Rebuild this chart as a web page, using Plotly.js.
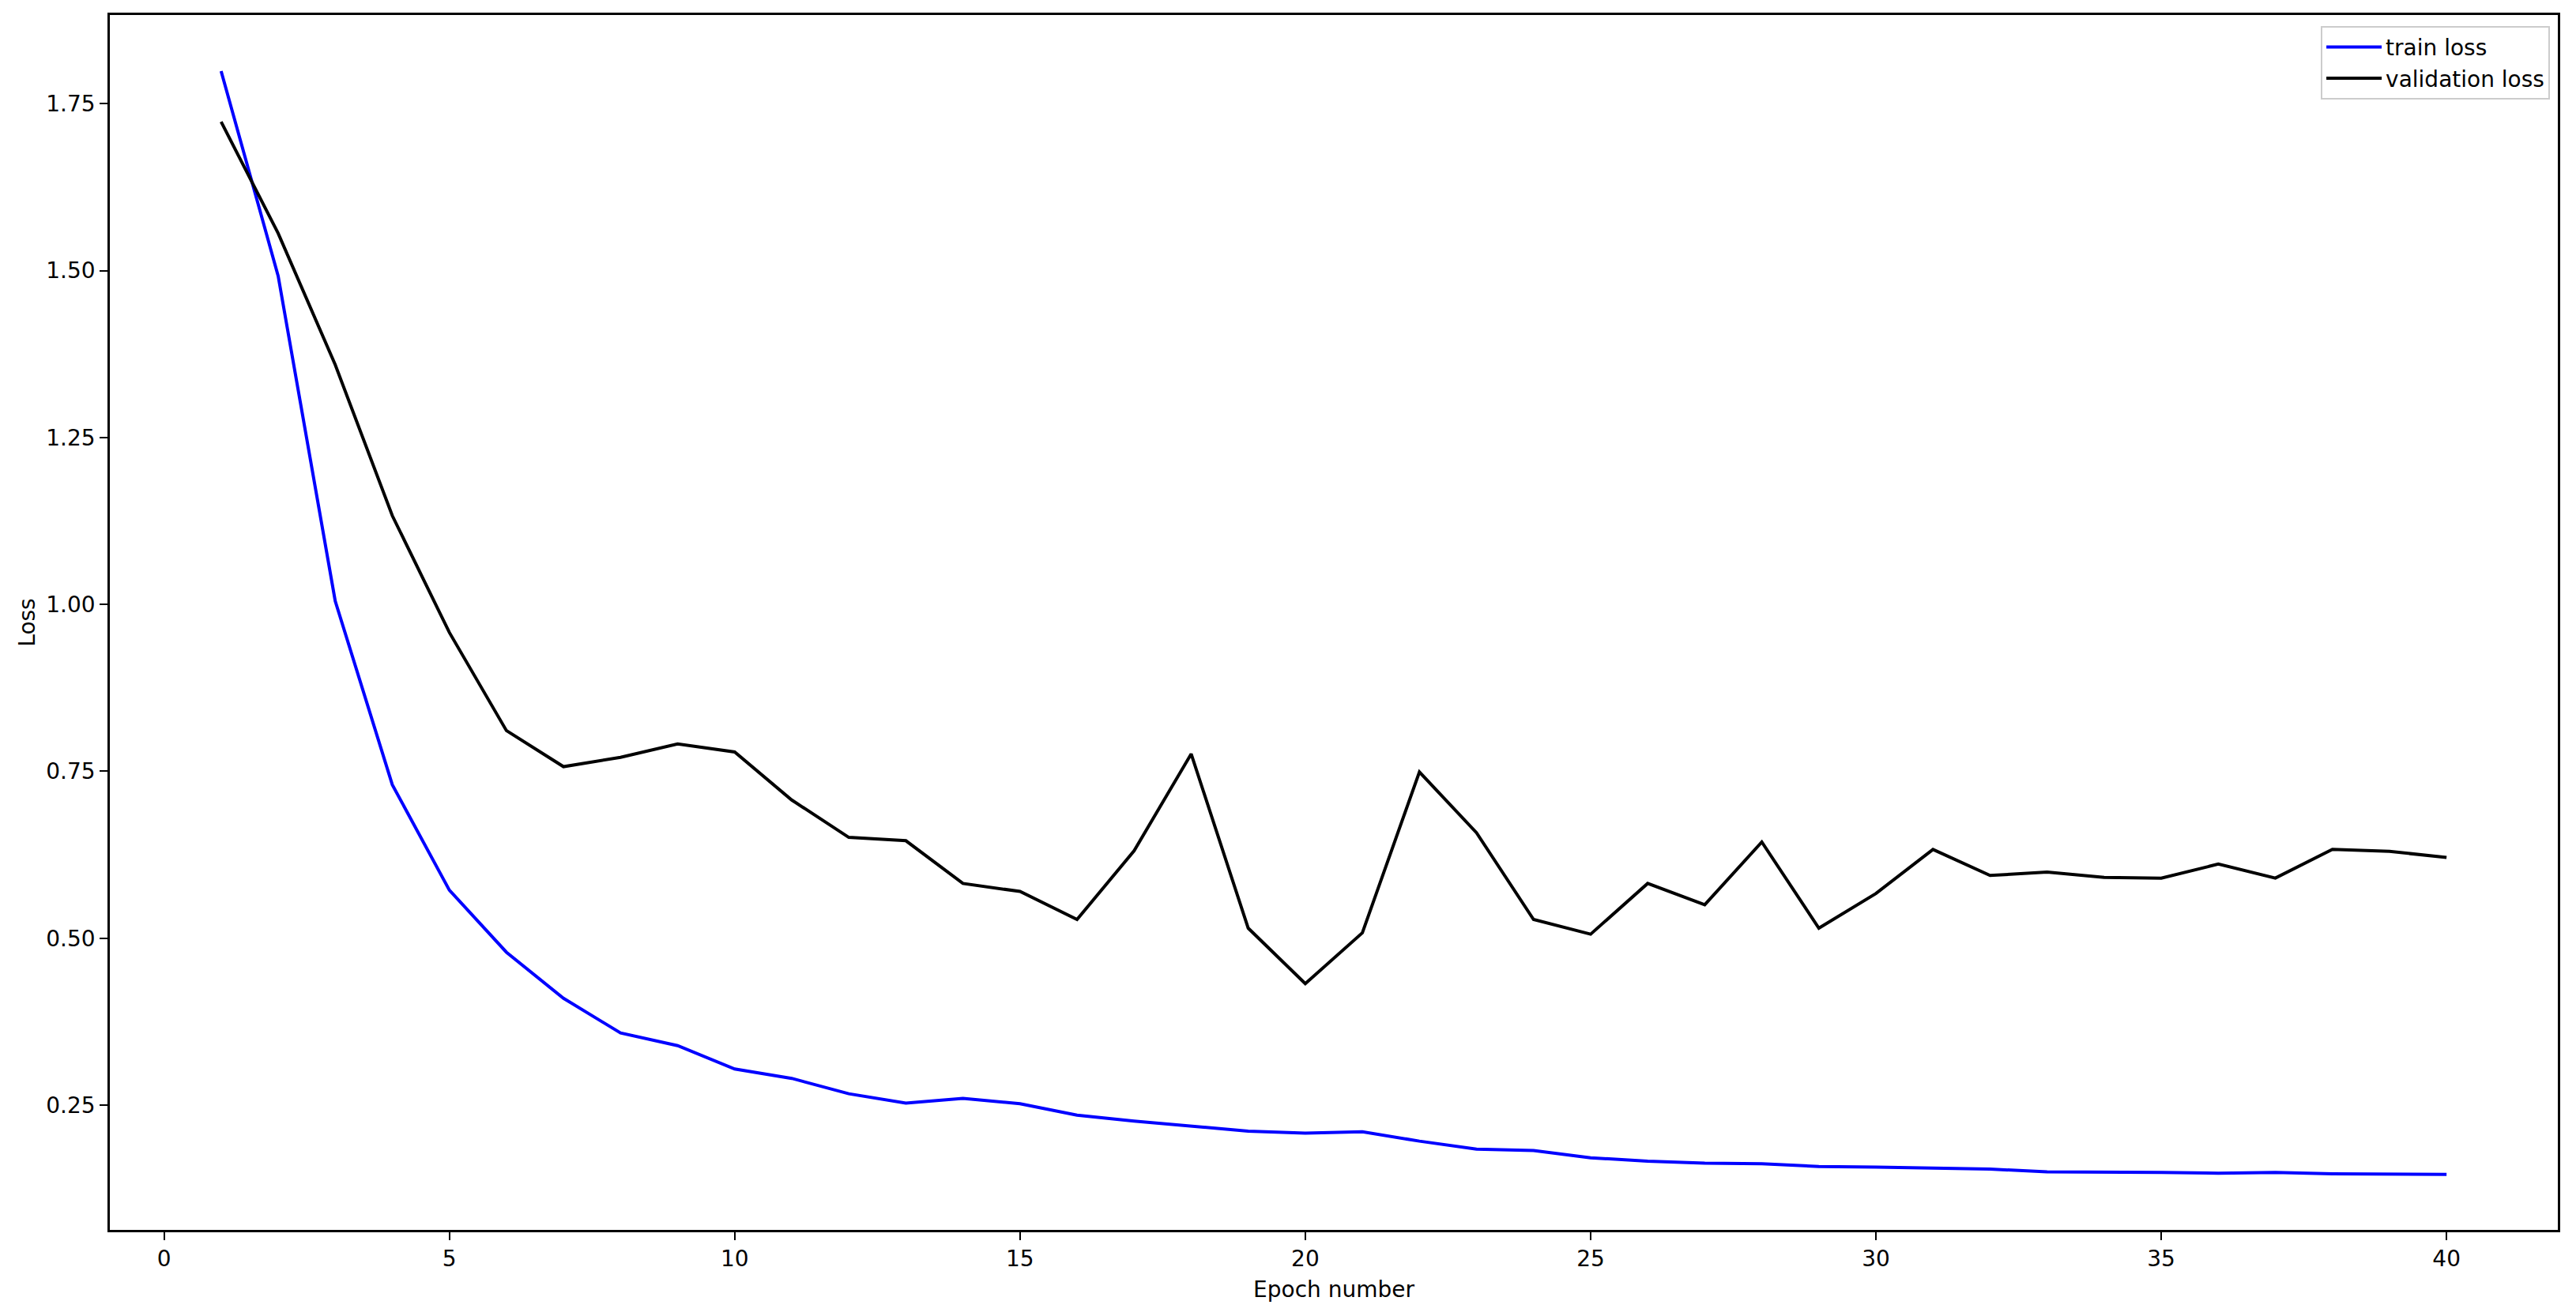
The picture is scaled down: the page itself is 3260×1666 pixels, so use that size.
<!DOCTYPE html>
<html>
<head>
<meta charset="utf-8">
<script src="https://cdn.plot.ly/plotly-3.0.1.min.js"></script>
<style>
  html, body { margin: 0; padding: 0; background: #fff; }
  #plot { width: 3260px; height: 1666px; }
</style>
</head>
<body>
<div id="plot"></div>
<script>
var epochs = [];
for (var i = 1; i <= 40; i++) epochs.push(i);

var trainLoss = [1.799, 1.492, 1.005, 0.730, 0.572, 0.479, 0.410, 0.358, 0.339, 0.304,
                 0.290, 0.267, 0.253, 0.260, 0.252, 0.235, 0.226, 0.218, 0.211, 0.208,
                 0.210, 0.196, 0.184, 0.182, 0.171, 0.166, 0.163, 0.162, 0.158, 0.157,
                 0.156, 0.154, 0.150, 0.150, 0.149, 0.148, 0.149, 0.147, 0.147, 0.146];

var valLoss = [1.723, 1.556, 1.359, 1.133, 0.958, 0.811, 0.757, 0.771, 0.791, 0.779,
               0.707, 0.651, 0.646, 0.582, 0.570, 0.528, 0.631, 0.776, 0.515, 0.432,
               0.508, 0.749, 0.658, 0.528, 0.506, 0.582, 0.550, 0.644, 0.515, 0.567,
               0.633, 0.594, 0.599, 0.591, 0.590, 0.611, 0.590, 0.633, 0.630, 0.621];

var font = { family: 'DejaVu Sans, sans-serif', size: 28, color: '#000' };

var data = [
    {
        x: epochs,
        y: trainLoss,
        mode: 'lines',
        type: 'scatter',
        name: 'train loss',
        line: { color: '#0000ff', width: 4 }
    },
    {
        x: epochs,
        y: valLoss,
        mode: 'lines',
        type: 'scatter',
        name: 'validation loss',
        line: { color: '#000000', width: 4 }
    }
];

var layout = {
    width: 3260,
    height: 1666,
    font: font,
    paper_bgcolor: '#fff',
    plot_bgcolor: '#fff',
    margin: { l: 139, r: 23, t: 19, b: 109 },
    showlegend: true,
    legend: {
        x: 0.9968, y: 0.991, xanchor: 'right', yanchor: 'top',
        bordercolor: '#cccccc', borderwidth: 2, bgcolor: 'rgba(255,255,255,0.8)',
        itemwidth: 70,
        font: font
    },
    xaxis: {
        title: { text: 'Epoch number', font: font, standoff: 14 },
        range: [-0.95, 41.95],
        tick0: 0, dtick: 5,
        showgrid: false, zeroline: false,
        showline: true, mirror: true, linecolor: '#000', linewidth: 2.5,
        ticks: 'outside', ticklen: 10, tickwidth: 2.3, tickcolor: '#000',
        tickfont: font
    },
    yaxis: {
        title: { text: 'Loss', font: font, standoff: 6 },
        range: [0.063, 1.883],
        tick0: 0.25, dtick: 0.25, tickformat: '.2f',
        showgrid: false, zeroline: false,
        showline: true, mirror: true, linecolor: '#000', linewidth: 2.5,
        ticks: 'outside', ticklen: 10, tickwidth: 2.3, tickcolor: '#000',
        tickfont: font
    }
};

Plotly.newPlot('plot', data, layout, { displayModeBar: false });
</script>
</body>
</html>
